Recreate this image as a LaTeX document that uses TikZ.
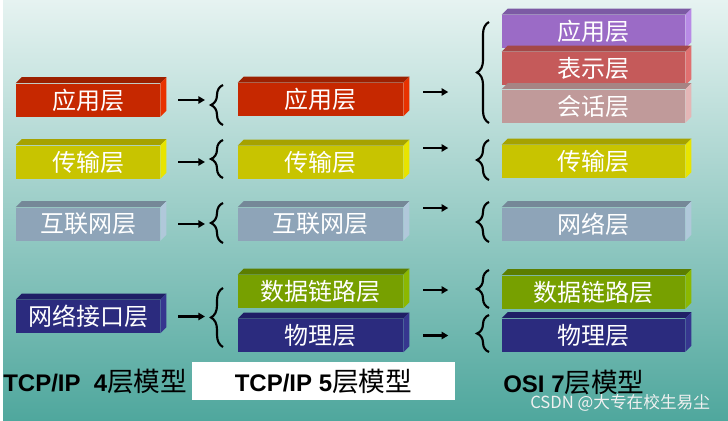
\documentclass[tikz,border=0pt]{standalone}
\usepackage{fontspec}
\newfontfamily\cjk{Noto Sans CJK SC}
\newfontfamily\lat{Liberation Sans}
\usetikzlibrary{arrows.meta,decorations.pathreplacing}

% front / top / side colours of the layer bricks
\definecolor{lyRedF}{HTML}{C62800}\definecolor{lyRedT}{HTML}{9C2000}\definecolor{lyRedS}{HTML}{E83200}
\definecolor{lyYelF}{HTML}{C8C400}\definecolor{lyYelT}{HTML}{A6A200}\definecolor{lyYelS}{HTML}{E8E400}
\definecolor{lyGryF}{HTML}{8EA4B8}\definecolor{lyGryT}{HTML}{758898}\definecolor{lyGryS}{HTML}{B0C8DA}
\definecolor{lyNavF}{HTML}{2B2B7E}\definecolor{lyNavT}{HTML}{1F1F66}\definecolor{lyNavS}{HTML}{36368F}
\definecolor{lyGrnF}{HTML}{77A000}\definecolor{lyGrnT}{HTML}{5C7E00}\definecolor{lyGrnS}{HTML}{8CB800}
\definecolor{lyPurF}{HTML}{9B6BC6}\definecolor{lyPurT}{HTML}{7C5AA4}\definecolor{lyPurS}{HTML}{B88AE6}
\definecolor{lyRosF}{HTML}{C55A5A}\definecolor{lyRosT}{HTML}{A44848}\definecolor{lyRosS}{HTML}{E07070}
\definecolor{lyPnkF}{HTML}{C09A9A}\definecolor{lyPnkT}{HTML}{A68484}\definecolor{lyPnkS}{HTML}{E4B6B6}
\definecolor{bgTop}{HTML}{E6F3F1}
\definecolor{bgBot}{HTML}{4FA79D}

\tikzset{
  layerbox/.style={minimum height=24.75pt, inner sep=0pt, text=white,
    font=\cjk\fontsize{18}{18}\selectfont},
  col1/.style={layerbox, minimum width=108pt},
  col2/.style={layerbox, minimum width=123.75pt},
  col3/.style={layerbox, minimum width=137.25pt},
  arr/.style={-{Triangle[length=5pt,width=5.5pt]}, line width=2pt},
  curly/.style={decorate, decoration={brace, amplitude=9pt}, line width=1.6pt},
  model/.style={inner sep=0pt, font=\lat\bfseries\fontsize{18}{18}\selectfont},
}

% brick: style, name, position, colour prefix, text
\newcommand\brick[5]{%
  \node[#1, fill=#4F] (#2) at #3 {#5};
  \fill[#4T] (#2.north west) -- ++(6,-6) -- ([shift={(6,-6)}]#2.north east) -- (#2.north east) -- cycle;
  \fill[#4S] (#2.north east) -- ++(6,-6) -- ([shift={(6,-6)}]#2.south east) -- (#2.south east) -- cycle;
}
\newcommand\cjkbig{\cjk\mdseries\fontsize{20}{20}\selectfont}

\begin{document}
\begin{tikzpicture}[x=0.75pt, y=-0.75pt]
	\useasboundingbox (0,0) rectangle (728,421);
	\shade[top color=bgTop, bottom color=bgBot] (0,0) rectangle (728,421);
	\fill[white] (0,0) rectangle (3,421);

	% TCP/IP 4 layers
	\brick{col1}{a1}{(88,100)}{lyRed}{应用层}
	\brick{col1}{a2}{(88,162)}{lyYel}{传输层}
	\brick{col1}{a3}{(88,224)}{lyGry}{互联网层}
	\brick{col1}{a4}{(88,316.5)}{lyNav}{网络接口层}

	% TCP/IP 5 layers
	\brick{col2}{b1}{(320.5,99.5)}{lyRed}{应用层}
	\brick{col2}{b2}{(320.5,162.5)}{lyYel}{传输层}
	\brick{col2}{b3}{(320.5,224)}{lyGry}{互联网层}
	\brick{col2}{b4}{(320.5,291.5)}{lyGrn}{数据链路层}
	\brick{col2}{b5}{(320.5,335.5)}{lyNav}{物理层}

	% OSI 7 layers
	\brick{col3}{c1}{(593.5,31.5)}{lyPur}{应用层}
	\brick{col3}{c2}{(593.5,68.5)}{lyRos}{表示层}
	\brick{col3}{c3}{(593.5,106)}{lyPnk}{会话层}
	\brick{col3}{c4}{(593.5,161.5)}{lyYel}{传输层}
	\brick{col3}{c5}{(593.5,224)}{lyGry}{网络层}
	\brick{col3}{c6}{(593.5,292)}{lyGrn}{数据链路层}
	\brick{col3}{c7}{(593.5,335)}{lyNav}{物理层}

	% braces in front of the 5-layer column
	\draw[curly] (223,125) -- (223,85);
	\draw[curly] (223,178) -- (223,140);
	\draw[curly] (223,243) -- (223,203);
	\draw[curly] (223,347) -- (223,288);
	\coordinate (br1) at (210,105);
	\coordinate (br2) at (210,159);
	\coordinate (br3) at (210,223);
	\coordinate (br4) at (210,317);

	% braces in front of the 7-layer column
	\draw[curly] (489,123) -- (489,22);
	\draw[curly] (489,180) -- (489,140);
	\draw[curly] (489,242) -- (489,202);
	\draw[curly] (489,308) -- (489,270);
	\draw[curly] (489,352) -- (489,315);

	% arrows 4 -> 5
	\foreach \i in {1,...,4}
		\draw[arr] ([xshift=13.5pt]a\i.east) -- ([xshift=-3.75pt]a\i.east -| br\i);

	% arrows 5 -> 7
	\draw[arr] ([shift={(20,-7.5)}]b1.east) -- ++(25,0);
	\draw[arr] ([shift={(20,-14.5)}]b2.east) -- ++(25,0);
	\draw[arr] ([shift={(20,-16)}]b3.east) -- ++(25,0);
	\draw[arr] ([shift={(20,-1.5)}]b4.east) -- ++(25,0);
	\draw[arr] ([shift={(20,0)}]b5.east) -- ++(25,0);

	% model names
	\node[model, anchor=west] (m4) at (3,381) {TCP/IP\ \ 4{\cjkbig 层模型}};
	\node[model, fill=white, minimum width=197.25pt, minimum height=28.5pt] (m5) at (323.5,381) {TCP/IP 5{\cjkbig 层模型}};
	\node[model, anchor=west] (m7) at (503,382) {OSI\ 7{\cjkbig 层模型}};
	\node[anchor=west, inner sep=0pt, text=white!88!gray, font=\cjk\fontsize{12.5}{12.5}\selectfont] (wm) at (530,403) {CSDN @大专在校生易尘};
\end{tikzpicture}
\end{document}
